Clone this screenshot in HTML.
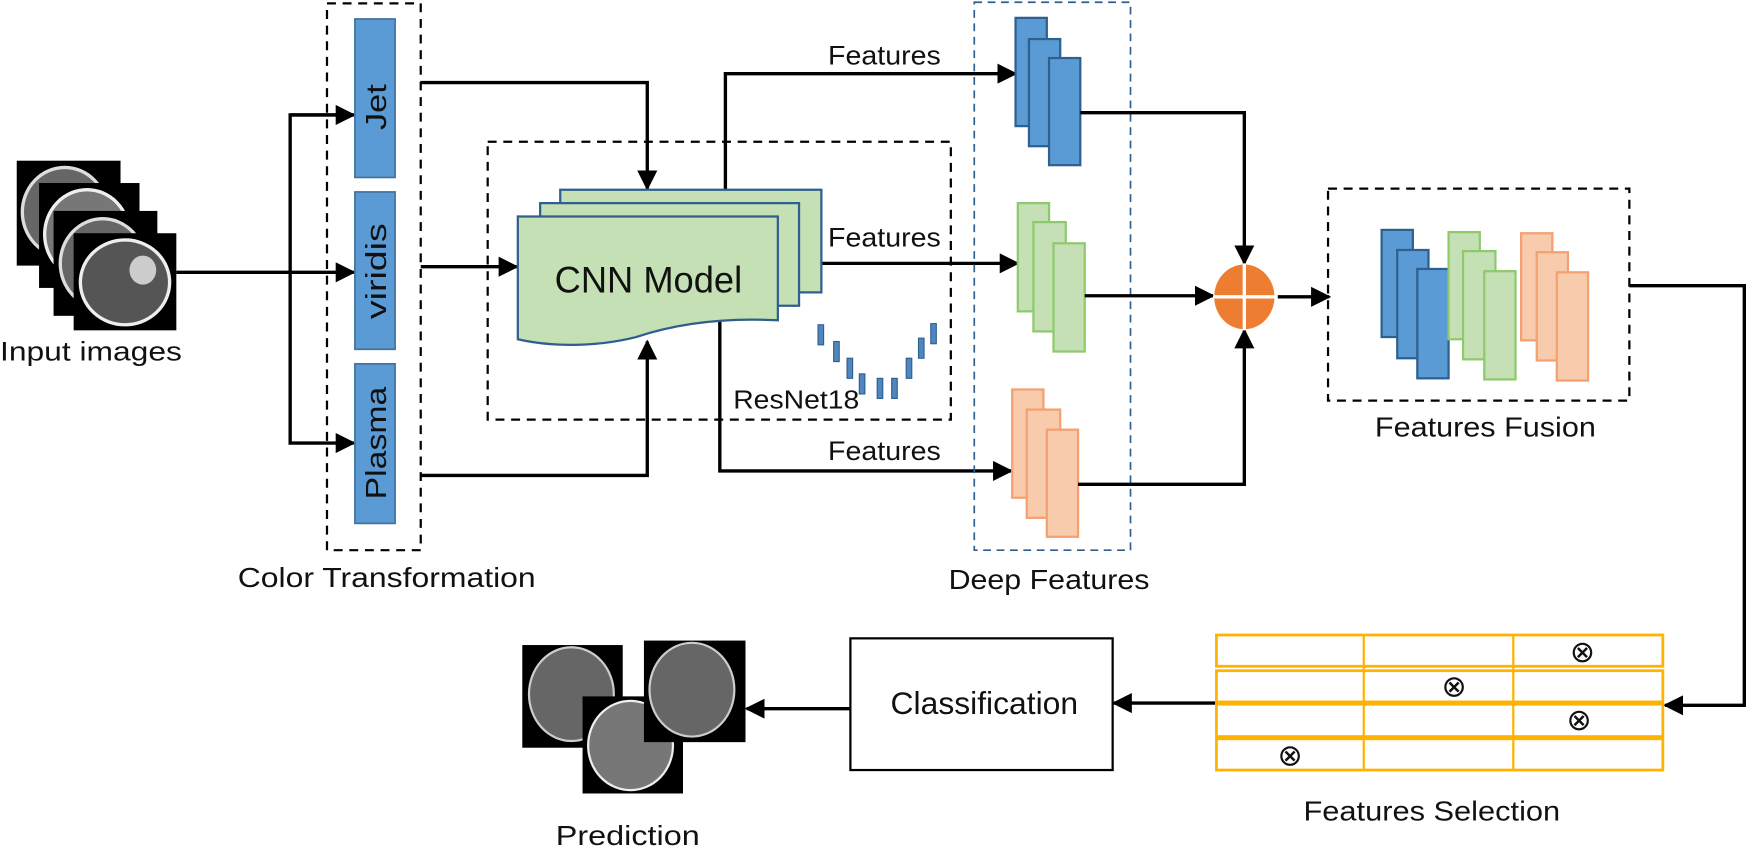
<!DOCTYPE html>
<html><head><meta charset="utf-8"><style>
html,body{margin:0;padding:0;background:#fff;}
svg{display:block;}
text{font-family:"Liberation Sans",sans-serif;fill:#111;}
</style></head><body>
<svg width="1750" height="850" viewBox="0 0 1750 850" xmlns="http://www.w3.org/2000/svg">
<defs>
<marker id="ah" viewBox="0 0 10 10" refX="9" refY="5" markerWidth="6" markerHeight="6" orient="auto" markerUnits="strokeWidth">
<path d="M0,0 L10,5 L0,10 z" fill="#000"/></marker>
</defs>
<g transform="scale(1.116)">

<!-- Input images -->
<rect x="15" y="144" width="93" height="94" fill="#000"/>
<ellipse cx="58" cy="190" rx="38" ry="40" fill="#666" stroke="#ddd" stroke-width="3"/>
<rect x="35" y="164" width="90" height="94" fill="#000"/>
<ellipse cx="78" cy="210" rx="38" ry="40" fill="#777" stroke="#eee" stroke-width="3"/>
<rect x="48" y="189" width="93" height="94" fill="#000"/>
<ellipse cx="92" cy="236" rx="38" ry="40" fill="#666" stroke="#ddd" stroke-width="3"/>
<rect x="66" y="209" width="92" height="87" fill="#000"/>
<ellipse cx="112" cy="253" rx="40" ry="38" fill="#555" stroke="#eee" stroke-width="3"/>
<ellipse cx="128" cy="242" rx="12" ry="13" fill="#ccc"/>
<text x="0" y="323" font-size="24" textLength="163" lengthAdjust="spacingAndGlyphs">Input images</text>

<g stroke="#000" stroke-width="3" fill="none">
<line x1="158" y1="244" x2="317" y2="244" marker-end="url(#ah)"/>
<polyline points="317,103 260,103 260,397 317,397" marker-end="url(#ah)"/>
<line x1="260" y1="103" x2="317" y2="103" marker-end="url(#ah)"/>
</g>

<!-- Color transformation -->
<rect x="293" y="3" width="84" height="490" fill="none" stroke="#000" stroke-width="2" stroke-dasharray="8,6"/>
<g fill="#5b9bd5" stroke="#41719c" stroke-width="1.5">
<rect x="318" y="17" width="36" height="142"/>
<rect x="318" y="172" width="36" height="141"/>
<rect x="318" y="326" width="36" height="143"/>
</g>
<text transform="translate(346,96) rotate(-90)" font-size="26" text-anchor="middle" textLength="41" lengthAdjust="spacingAndGlyphs">Jet</text>
<text transform="translate(346,243) rotate(-90)" font-size="26" text-anchor="middle" textLength="86" lengthAdjust="spacingAndGlyphs">viridis</text>
<text transform="translate(346,397) rotate(-90)" font-size="26" text-anchor="middle" textLength="101" lengthAdjust="spacingAndGlyphs">Plasma</text>
<text x="213" y="526" font-size="25" textLength="267" lengthAdjust="spacingAndGlyphs">Color Transformation</text>

<!-- ResNet box -->
<rect x="437" y="127" width="415" height="249" fill="none" stroke="#000" stroke-width="2" stroke-dasharray="8,6"/>

<g stroke="#000" stroke-width="3" fill="none">
<polyline points="377,74 580,74 580,169" marker-end="url(#ah)"/>
<line x1="377" y1="239" x2="463" y2="239" marker-end="url(#ah)"/>
<polyline points="377,426 580,426 580,306" marker-end="url(#ah)"/>
<polyline points="650,170 650,66 910,66" marker-end="url(#ah)"/>
<line x1="737" y1="236" x2="912" y2="236" marker-end="url(#ah)"/>
<polyline points="645,287 645,422 906,422" marker-end="url(#ah)"/>
</g>

<!-- CNN stack -->
<g fill="#c5e0b4" stroke="#2e5f8f" stroke-width="2">
<path d="M502,170 H736 V262 H502 Z"/>
<path d="M484,182 H716 V274 H484 Z"/>
<path d="M464,194 H697 V287 C640,284 600,292 570,302 C530,312 490,310 464,304 Z"/>
</g>
<text x="497" y="262" font-size="33" textLength="168" lengthAdjust="spacingAndGlyphs">CNN Model</text>

<g font-size="24">
<text x="742" y="58" textLength="101" lengthAdjust="spacingAndGlyphs">Features</text>
<text x="742" y="221" textLength="101" lengthAdjust="spacingAndGlyphs">Features</text>
<text x="742" y="412" textLength="101" lengthAdjust="spacingAndGlyphs">Features</text>
</g>

<!-- ResNet bars -->
<g fill="#4f86c0" stroke="#2e5f8f" stroke-width="1">
<rect x="733" y="291" width="5" height="18"/>
<rect x="747" y="306" width="5" height="18"/>
<rect x="759" y="321" width="5" height="18"/>
<rect x="770" y="335" width="5" height="18"/>
<rect x="786" y="339" width="5" height="18"/>
<rect x="799" y="339" width="5" height="18"/>
<rect x="812" y="321" width="5" height="18"/>
<rect x="823" y="303" width="5" height="18"/>
<rect x="834" y="290" width="5" height="18"/>
</g>
<text x="657" y="366" font-size="23" textLength="113" lengthAdjust="spacingAndGlyphs">ResNet18</text>

<!-- Deep features -->
<rect x="873" y="2" width="140" height="491" fill="none" stroke="#2e5f8f" stroke-width="1.5" stroke-dasharray="7,5"/>
<g fill="#5b9bd5" stroke="#2e5f8f" stroke-width="2">
<rect x="910" y="16" width="28" height="97"/>
<rect x="922" y="35" width="28" height="96"/>
<rect x="940" y="52" width="28" height="96"/>
</g>
<g fill="#c5e0b4" stroke="#8fc96e" stroke-width="2">
<rect x="912" y="182" width="28" height="97"/>
<rect x="926" y="199" width="29" height="98"/>
<rect x="944" y="218" width="28" height="97"/>
</g>
<g fill="#f8cbad" stroke="#f4a070" stroke-width="2">
<rect x="907" y="349" width="28" height="97"/>
<rect x="920" y="367" width="30" height="97"/>
<rect x="938" y="385" width="28" height="96"/>
</g>
<text x="850" y="528" font-size="25" textLength="180" lengthAdjust="spacingAndGlyphs">Deep Features</text>

<g stroke="#000" stroke-width="3" fill="none">
<polyline points="968,101 1115,101 1115,236" marker-end="url(#ah)"/>
<line x1="972" y1="265" x2="1087" y2="265" marker-end="url(#ah)"/>
<polyline points="966,434 1115,434 1115,296" marker-end="url(#ah)"/>
<line x1="1145" y1="266" x2="1191" y2="266" marker-end="url(#ah)"/>
<polyline points="1460,256 1563,256 1563,632 1492,632" marker-end="url(#ah)"/>
<line x1="1090" y1="630" x2="998" y2="630" marker-end="url(#ah)"/>
<line x1="762" y1="635" x2="669" y2="635" marker-end="url(#ah)"/>
</g>
<ellipse cx="1115" cy="266" rx="27" ry="29" fill="#ed7d31"/>
<line x1="1115" y1="236" x2="1115" y2="296" stroke="#fff" stroke-width="3"/>
<line x1="1087" y1="266" x2="1143" y2="266" stroke="#fff" stroke-width="3"/>

<!-- Features fusion -->
<rect x="1190" y="169" width="270" height="190" fill="none" stroke="#000" stroke-width="2" stroke-dasharray="8,6"/>
<g fill="#5b9bd5" stroke="#2e5f8f" stroke-width="2">
<rect x="1238" y="206" width="28" height="96"/>
<rect x="1252" y="224" width="28" height="97"/>
<rect x="1270" y="241" width="28" height="98"/>
</g>
<g fill="#c5e0b4" stroke="#8fc96e" stroke-width="2">
<rect x="1298" y="208" width="28" height="96"/>
<rect x="1311" y="225" width="29" height="97"/>
<rect x="1330" y="243" width="28" height="97"/>
</g>
<g fill="#f8cbad" stroke="#f4a070" stroke-width="2">
<rect x="1363" y="209" width="28" height="96"/>
<rect x="1377" y="226" width="28" height="97"/>
<rect x="1395" y="244" width="28" height="97"/>
</g>
<text x="1232" y="391" font-size="25" textLength="198" lengthAdjust="spacingAndGlyphs">Features Fusion</text>

<!-- Features selection grid -->
<g fill="#fff" stroke="#ffb300" stroke-width="2.5">
<rect x="1090" y="569" width="400" height="28"/>
<rect x="1090" y="601" width="400" height="28"/>
<rect x="1090" y="631" width="400" height="29"/>
<rect x="1090" y="662" width="400" height="28"/>
</g>
<g stroke="#ffb300" stroke-width="2">
<line x1="1222" y1="569" x2="1222" y2="690"/>
<line x1="1356" y1="569" x2="1356" y2="690"/>
</g>
<g font-size="27" text-anchor="middle">
<text x="1418" y="593">⊗</text>
<text x="1303" y="624">⊗</text>
<text x="1415" y="654">⊗</text>
<text x="1156" y="686">⊗</text>
</g>
<text x="1168" y="735" font-size="25" textLength="230" lengthAdjust="spacingAndGlyphs">Features Selection</text>

<!-- Classification -->
<rect x="762" y="572" width="235" height="118" fill="#fff" stroke="#000" stroke-width="2"/>
<text x="798" y="640" font-size="28" textLength="168" lengthAdjust="spacingAndGlyphs">Classification</text>

<!-- Prediction images -->
<rect x="468" y="578" width="90" height="92" fill="#000"/>
<ellipse cx="512" cy="622" rx="38" ry="42" fill="#666" stroke="#ccc" stroke-width="2"/>
<rect x="522" y="624" width="90" height="87" fill="#000"/>
<ellipse cx="565" cy="668" rx="38" ry="40" fill="#777" stroke="#eee" stroke-width="2"/>
<rect x="577" y="574" width="91" height="91" fill="#000"/>
<ellipse cx="620" cy="618" rx="38" ry="42" fill="#666" stroke="#ccc" stroke-width="2"/>
<text x="498" y="757" font-size="25" textLength="129" lengthAdjust="spacingAndGlyphs">Prediction</text>
</g>
</svg>
</body></html>
